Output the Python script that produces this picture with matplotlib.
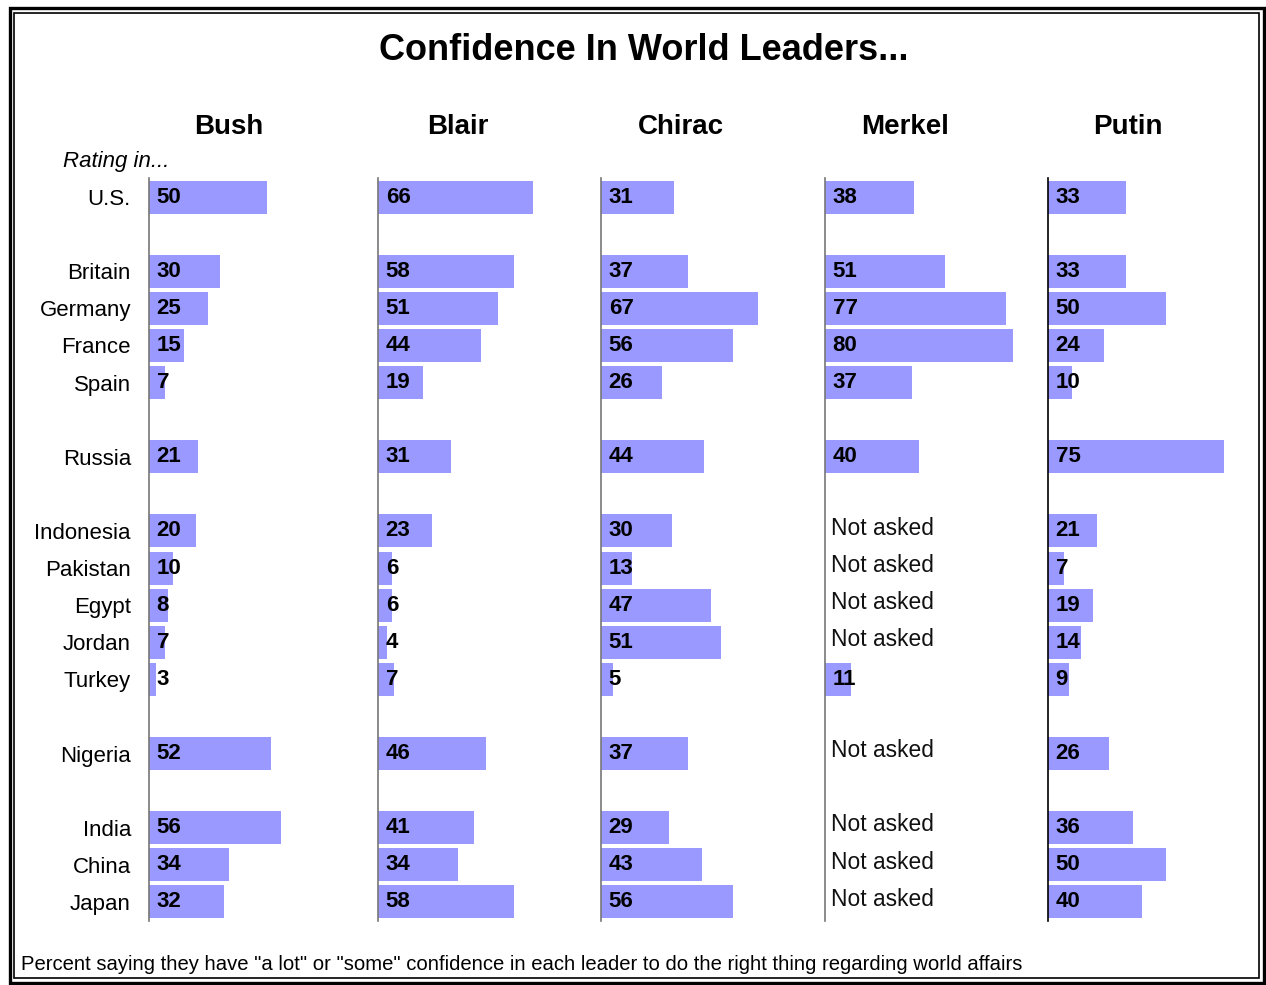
import matplotlib.pyplot as plt
from matplotlib.patches import Rectangle

plt.rcParams['font.family'] = ['Liberation Sans', 'DejaVu Sans']

countries = ['U.S.', 'Britain', 'Germany', 'France', 'Spain', 'Russia',
             'Indonesia', 'Pakistan', 'Egypt', 'Jordan', 'Turkey',
             'Nigeria', 'India', 'China', 'Japan']
# row slots (blank rows separate the country groups)
rows = [0, 2, 3, 4, 5, 7, 9, 10, 11, 12, 13, 15, 17, 18, 19]

leaders = ['Bush', 'Blair', 'Chirac', 'Merkel', 'Putin']
bush = [50, 30, 25, 15, 7, 21, 20, 10, 8, 7, 3, 52, 56, 34, 32]
blair = [66, 58, 51, 44, 19, 31, 23, 6, 6, 4, 7, 46, 41, 34, 58]
chirac = [31, 37, 67, 56, 26, 44, 30, 13, 47, 51, 5, 37, 29, 43, 56]
merkel = [38, 51, 77, 80, 37, 40, None, None, None, None, 11, None, None, None, None]
putin = [33, 33, 50, 24, 10, 75, 21, 7, 19, 14, 9, 26, 36, 50, 40]
series = [bush, blair, chirac, merkel, putin]

W, H = 1266, 985
fig = plt.figure(figsize=(W / 100, H / 100), dpi=100)

bar_color = '#9999FF'
axis_x = [149, 378, 601, 825, 1048]   # pixel x of each panel's axis line
px_per_unit = 2.35
xmax = 90
top_px, bot_px = 178.5, 920.5

for i, (name, vals) in enumerate(zip(leaders, series)):
    ax = fig.add_axes([axis_x[i] / W, 1 - bot_px / H,
                       xmax * px_per_unit / W, (bot_px - top_px) / H])
    ax.set_xlim(0, xmax)
    ax.set_ylim(19.5, -0.5)
    for s in ['top', 'right', 'bottom']:
        ax.spines[s].set_visible(False)
    ax.spines['left'].set_color('black' if name == 'Putin' else '#777777')
    ax.spines['left'].set_linewidth(1.2)
    ax.set_xticks([])
    ax.patch.set_alpha(0)

    for r, v in zip(rows, vals):
        if v is None:
            ax.annotate('Not asked', (0, r), xytext=(4.5, 2), textcoords='offset points',
                        ha='left', va='center', fontsize=16.4, color='#111111')
            continue
        ax.barh(r, v, height=0.89, color=bar_color, edgecolor='none')
        ax.annotate(str(v), (0, r), xytext=(5.5, 0), textcoords='offset points',
                    ha='left', va='center', fontsize=16, fontweight='bold', color='black')

    ax.text(34, -1.88, name, ha='center', va='center', fontsize=20, fontweight='bold')

    if i == 0:
        ax.set_yticks(rows)
        ax.set_yticklabels(countries, fontsize=16)
        ax.tick_params(axis='y', length=0, pad=13)
    else:
        ax.set_yticks([])

fig.text(644 / W, 1 - 51 / H, 'Confidence In World Leaders...', ha='center', va='center',
         fontsize=26, fontweight='bold')
fig.text(63 / W, 1 - 162 / H, 'Rating in...', ha='left', va='center', fontsize=16,
         fontstyle='italic')
fig.text(21 / W, 1 - 964 / H,
         'Percent saying they have "a lot" or "some" confidence in each leader '
         'to do the right thing regarding world affairs',
         ha='left', va='center', fontsize=14.6)

# double frame
fig.patches.append(Rectangle((9.5 / W, 1 - 982.5 / H), (1263.5 - 9.5) / W, (982.5 - 7.5) / H,
                             transform=fig.transFigure, fill=False, ec='black', lw=2.4))
fig.patches.append(Rectangle((13.5 / W, 1 - 977.5 / H), (1258.5 - 13.5) / W, (977.5 - 13) / H,
                             transform=fig.transFigure, fill=False, ec='black', lw=1.2))

fig.savefig('out.png', dpi=100, facecolor='white')
